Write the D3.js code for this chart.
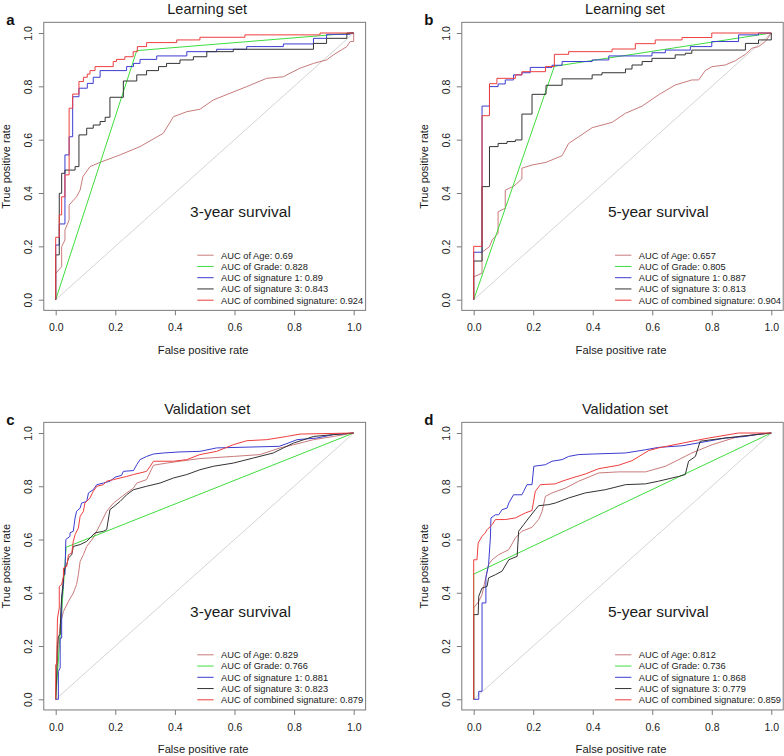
<!DOCTYPE html>
<html><head><meta charset="utf-8">
<script src="https://cdn.jsdelivr.net/npm/d3@7"></script>
<style>
html,body{margin:0;padding:0;background:#fff;}
svg{display:block;font-family:"Liberation Sans",Arial,sans-serif;}
</style></head>
<body>
<svg id="chart" width="784" height="756"></svg>
<script>
// ---------- data ----------
const seriesNames = ["AUC of Age", "AUC of Grade", "AUC of signature 1", "AUC of signature 3", "AUC of combined signature"];
const seriesColors = ["#c97b7b", "#3fdc3f", "#3c3cd0", "#333333", "#ef3e3e"];
const tickValues = [0, 0.2, 0.4, 0.6, 0.8, 1.0];

const panelLetters = ["a", "b", "c", "d"];
const panelTitles = ["Learning set", "Learning set", "Validation set", "Validation set"];
const panelSurvival = ["3-year survival", "5-year survival", "3-year survival", "5-year survival"];

const aucA = [0.69, 0.828, 0.89, 0.843, 0.924];
const aucB = [0.657, 0.805, 0.887, 0.813, 0.904];
const aucC = [0.829, 0.766, 0.881, 0.823, 0.879];
const aucD = [0.812, 0.736, 0.868, 0.779, 0.859];

// Panel a (learning, 3-year)
const aAge = [[0,0],[0,0.099],[0.02,0.124],[0.02,0.199],[0.031,0.224],[0.031,0.261],[0.045,0.299],[0.045,0.355],[0.07,0.386],[0.082,0.411],[0.091,0.461],[0.115,0.499],[0.149,0.515],[0.216,0.543],[0.283,0.574],[0.361,0.624],[0.395,0.686],[0.44,0.705],[0.484,0.714],[0.529,0.749],[0.585,0.774],[0.641,0.799],[0.708,0.83],[0.764,0.836],[0.786,0.849],[0.82,0.868],[0.865,0.886],[0.909,0.899],[0.932,0.918],[0.977,0.949],[0.988,0.968],[1,0.968],[1,1]];
const aGrade = [[0,0],[0.272,0.934],[1,1]];
const aSig1 = [[0,0],[0,0.205],[0.012,0.205],[0.012,0.284],[0.031,0.284],[0.031,0.543],[0.045,0.543],[0.045,0.611],[0.057,0.611],[0.057,0.761],[0.078,0.761],[0.078,0.793],[0.106,0.793],[0.106,0.811],[0.126,0.811],[0.126,0.834],[0.149,0.834],[0.149,0.859],[0.238,0.859],[0.238,0.874],[0.261,0.874],[0.261,0.886],[0.283,0.886],[0.283,0.901],[0.339,0.901],[0.339,0.914],[0.44,0.914],[0.44,0.93],[0.54,0.93],[0.54,0.939],[0.641,0.939],[0.641,0.949],[0.764,0.949],[0.764,0.959],[0.865,0.959],[0.865,0.98],[0.909,0.98],[0.909,0.995],[0.988,0.995],[0.988,1],[1,1]];
const aSig3 = [[0,0],[0,0.168],[0.012,0.168],[0.012,0.399],[0.02,0.399],[0.02,0.474],[0.031,0.474],[0.031,0.486],[0.065,0.486],[0.065,0.499],[0.078,0.499],[0.078,0.618],[0.104,0.618],[0.104,0.643],[0.126,0.643],[0.126,0.655],[0.149,0.655],[0.149,0.668],[0.166,0.668],[0.166,0.684],[0.182,0.684],[0.182,0.759],[0.227,0.759],[0.227,0.82],[0.272,0.82],[0.272,0.843],[0.305,0.843],[0.305,0.859],[0.345,0.859],[0.345,0.874],[0.372,0.874],[0.372,0.886],[0.417,0.886],[0.417,0.899],[0.462,0.899],[0.462,0.911],[0.507,0.911],[0.507,0.93],[0.596,0.93],[0.596,0.939],[0.865,0.939],[0.865,0.961],[0.909,0.961],[0.909,0.98],[0.977,0.98],[0.977,1],[1,1]];
const aComb = [[0,0],[0,0.234],[0.012,0.234],[0.012,0.318],[0.02,0.318],[0.02,0.386],[0.031,0.386],[0.031,0.468],[0.045,0.468],[0.045,0.718],[0.057,0.718],[0.057,0.771],[0.078,0.771],[0.078,0.818],[0.093,0.818],[0.093,0.834],[0.106,0.834],[0.106,0.846],[0.115,0.846],[0.115,0.859],[0.132,0.859],[0.132,0.874],[0.193,0.874],[0.193,0.893],[0.204,0.893],[0.204,0.901],[0.232,0.901],[0.232,0.911],[0.26,0.911],[0.26,0.93],[0.274,0.93],[0.274,0.949],[0.305,0.949],[0.305,0.964],[0.406,0.964],[0.406,0.974],[0.484,0.974],[0.484,0.984],[0.635,0.984],[0.635,0.993],[0.887,0.993],[0.887,1],[1,1]];

// Panel b (learning, 5-year)
const bAge = [[0,0],[0,0.086],[0.028,0.099],[0.028,0.178],[0.053,0.199],[0.062,0.224],[0.082,0.249],[0.082,0.33],[0.106,0.343],[0.106,0.411],[0.134,0.425],[0.162,0.453],[0.162,0.493],[0.196,0.505],[0.243,0.515],[0.297,0.54],[0.319,0.586],[0.353,0.611],[0.398,0.645],[0.465,0.665],[0.51,0.699],[0.566,0.726],[0.621,0.768],[0.677,0.805],[0.733,0.824],[0.756,0.824],[0.778,0.859],[0.801,0.874],[0.845,0.88],[0.879,0.896],[0.913,0.92],[0.935,0.943],[0.957,0.949],[0.98,0.968],[1,1]];
const bGrade = [[0,0],[0.271,0.875],[1,1]];
const bSig1 = [[0,0],[0,0.178],[0.028,0.178],[0.028,0.726],[0.053,0.726],[0.053,0.799],[0.082,0.799],[0.082,0.809],[0.106,0.809],[0.106,0.824],[0.134,0.824],[0.134,0.843],[0.162,0.843],[0.162,0.851],[0.19,0.851],[0.19,0.871],[0.263,0.871],[0.263,0.879],[0.297,0.879],[0.297,0.893],[0.398,0.893],[0.398,0.899],[0.454,0.899],[0.454,0.914],[0.599,0.914],[0.599,0.926],[0.644,0.926],[0.644,0.936],[0.728,0.936],[0.728,0.949],[0.8,0.949],[0.8,0.968],[0.89,0.968],[0.89,0.993],[0.957,0.993],[0.957,1],[1,1]];
const bSig3 = [[0,0],[0,0.145],[0.028,0.145],[0.028,0.424],[0.053,0.424],[0.053,0.574],[0.082,0.574],[0.082,0.586],[0.112,0.586],[0.112,0.593],[0.14,0.593],[0.14,0.599],[0.162,0.599],[0.162,0.696],[0.196,0.696],[0.196,0.77],[0.243,0.77],[0.243,0.804],[0.297,0.804],[0.297,0.828],[0.398,0.828],[0.398,0.843],[0.431,0.843],[0.431,0.851],[0.51,0.851],[0.51,0.865],[0.532,0.865],[0.532,0.88],[0.566,0.88],[0.566,0.893],[0.599,0.893],[0.599,0.905],[0.677,0.905],[0.677,0.918],[0.711,0.918],[0.711,0.924],[0.733,0.924],[0.733,0.936],[0.913,0.936],[0.913,0.961],[0.957,0.961],[0.957,0.974],[1,0.974],[1,1]];
const bComb = [[0,0],[0,0.2],[0.028,0.2],[0.028,0.69],[0.053,0.69],[0.053,0.81],[0.078,0.81],[0.078,0.83],[0.14,0.83],[0.14,0.843],[0.162,0.843],[0.162,0.855],[0.241,0.855],[0.241,0.874],[0.271,0.874],[0.271,0.92],[0.319,0.92],[0.319,0.93],[0.465,0.93],[0.465,0.94],[0.543,0.94],[0.543,0.96],[0.61,0.96],[0.61,0.974],[0.7,0.974],[0.7,0.983],[0.8,0.983],[0.8,1],[1,1]];

// Panel c (validation, 3-year)
const cAge = [[0,0],[0.003,0.08],[0.009,0.205],[0.015,0.28],[0.026,0.33],[0.043,0.368],[0.059,0.399],[0.07,0.431],[0.076,0.468],[0.082,0.518],[0.093,0.543],[0.104,0.574],[0.126,0.606],[0.149,0.656],[0.171,0.706],[0.194,0.737],[0.238,0.775],[0.261,0.793],[0.272,0.812],[0.305,0.825],[0.328,0.879],[0.372,0.887],[0.417,0.894],[0.484,0.904],[0.596,0.912],[0.686,0.919],[0.753,0.944],[0.798,0.956],[0.865,0.975],[0.932,0.987],[1,1]];
const cGrade = [[0,0],[0.035,0.571],[1,1]];
const cSig1 = [[0,0],[0.009,0],[0.009,0.105],[0.015,0.118],[0.015,0.23],[0.02,0.23],[0.02,0.38],[0.026,0.431],[0.026,0.468],[0.031,0.468],[0.034,0.6],[0.048,0.612],[0.048,0.625],[0.059,0.631],[0.065,0.681],[0.07,0.706],[0.082,0.718],[0.087,0.737],[0.104,0.743],[0.11,0.775],[0.126,0.787],[0.138,0.806],[0.16,0.812],[0.182,0.819],[0.199,0.834],[0.221,0.841],[0.227,0.856],[0.261,0.859],[0.272,0.881],[0.283,0.9],[0.305,0.912],[0.328,0.921],[0.361,0.925],[0.417,0.929],[0.484,0.931],[0.54,0.944],[0.75,0.95],[0.78,0.962],[0.81,0.975],[0.876,0.981],[0.932,0.994],[1,1]];
const cSig3 = [[0,0],[0.003,0.08],[0.006,0.205],[0.009,0.237],[0.015,0.243],[0.017,0.33],[0.02,0.38],[0.026,0.456],[0.031,0.493],[0.037,0.506],[0.043,0.531],[0.054,0.543],[0.059,0.574],[0.082,0.581],[0.104,0.593],[0.132,0.625],[0.16,0.631],[0.171,0.637],[0.182,0.712],[0.216,0.743],[0.238,0.768],[0.261,0.787],[0.305,0.8],[0.35,0.812],[0.395,0.831],[0.44,0.844],[0.484,0.862],[0.529,0.875],[0.596,0.887],[0.663,0.906],[0.73,0.925],[0.764,0.944],[0.798,0.962],[0.865,0.987],[0.932,0.994],[1,1]];
const cComb = [[0,0],[0,0.13],[0.003,0.13],[0.006,0.305],[0.012,0.343],[0.012,0.424],[0.02,0.431],[0.026,0.462],[0.026,0.493],[0.037,0.499],[0.043,0.543],[0.054,0.549],[0.059,0.593],[0.065,0.618],[0.076,0.643],[0.082,0.687],[0.093,0.706],[0.098,0.737],[0.115,0.756],[0.126,0.781],[0.138,0.8],[0.16,0.806],[0.171,0.819],[0.194,0.825],[0.216,0.831],[0.238,0.837],[0.261,0.844],[0.283,0.85],[0.305,0.856],[0.317,0.875],[0.328,0.894],[0.395,0.894],[0.44,0.9],[0.484,0.919],[0.54,0.931],[0.596,0.956],[0.641,0.971],[0.708,0.975],[0.775,0.987],[0.82,0.996],[1,1]];

// Panel d (validation, 5-year)
const dAge = [[0,0],[0,0.343],[0.017,0.368],[0.028,0.393],[0.05,0.506],[0.062,0.524],[0.084,0.543],[0.118,0.562],[0.14,0.606],[0.162,0.631],[0.196,0.646],[0.218,0.675],[0.23,0.706],[0.241,0.762],[0.263,0.775],[0.308,0.793],[0.353,0.819],[0.42,0.85],[0.487,0.854],[0.577,0.854],[0.644,0.875],[0.689,0.9],[0.733,0.925],[0.801,0.956],[0.89,0.987],[1,1]];
const dGrade = [[0,0],[0,0.47],[1,1]];
const dSig1 = [[0,0],[0.017,0],[0.017,0.03],[0.028,0.03],[0.028,0.362],[0.041,0.362],[0.041,0.456],[0.05,0.506],[0.056,0.606],[0.058,0.681],[0.073,0.693],[0.084,0.693],[0.095,0.712],[0.112,0.718],[0.118,0.737],[0.134,0.768],[0.162,0.768],[0.168,0.781],[0.179,0.806],[0.196,0.806],[0.202,0.875],[0.241,0.881],[0.263,0.894],[0.297,0.9],[0.319,0.912],[0.353,0.919],[0.398,0.921],[0.51,0.925],[0.577,0.937],[0.621,0.946],[0.7,0.952],[0.767,0.965],[0.845,0.981],[0.913,0.987],[0.957,0.996],[1,1]];
const dSig3 = [[0,0],[0,0.318],[0.015,0.318],[0.017,0.387],[0.028,0.418],[0.045,0.424],[0.05,0.456],[0.073,0.468],[0.095,0.481],[0.118,0.524],[0.146,0.537],[0.151,0.631],[0.168,0.656],[0.185,0.681],[0.207,0.712],[0.218,0.727],[0.252,0.731],[0.274,0.737],[0.319,0.756],[0.375,0.775],[0.442,0.787],[0.51,0.806],[0.577,0.809],[0.621,0.819],[0.689,0.837],[0.711,0.844],[0.722,0.894],[0.745,0.912],[0.761,0.969],[0.801,0.975],[0.845,0.981],[1,1]];
const dComb = [[0,0],[0,0.524],[0.011,0.524],[0.015,0.587],[0.028,0.612],[0.039,0.625],[0.045,0.637],[0.062,0.656],[0.073,0.675],[0.106,0.675],[0.14,0.681],[0.174,0.7],[0.196,0.709],[0.207,0.781],[0.224,0.806],[0.274,0.809],[0.297,0.819],[0.33,0.831],[0.375,0.846],[0.42,0.866],[0.487,0.879],[0.532,0.896],[0.566,0.919],[0.588,0.934],[0.621,0.944],[0.733,0.969],[0.789,0.981],[0.89,1],[1,1]];

const panelCurves = [
  [aAge, aGrade, aSig1, aSig3, aComb],
  [bAge, bGrade, bSig1, bSig3, bComb],
  [cAge, cGrade, cSig1, cSig3, cComb],
  [dAge, dGrade, dSig1, dSig3, dComb]
];
const panelAuc = [aucA, aucB, aucC, aucD];

// ---------- layout ----------
const layout = [
  {x0: 55.7, x1: 353.7, y0: 299.7, y1: 33},
  {x0: 473.7, x1: 771.3, y0: 299.7, y1: 33},
  {x0: 55.7, x1: 353.7, y0: 699.3, y1: 433},
  {x0: 473.7, x1: 771.3, y0: 699.3, y1: 433}
];

const svg = d3.select("#chart");
const boxColor = "#7a7a7a";
const textColor = "#1a1a1a";

layout.forEach((L, i) => {
  const x = d3.scaleLinear().domain([0, 1]).range([L.x0, L.x1]);
  const y = d3.scaleLinear().domain([0, 1]).range([L.y0, L.y1]);
  const padX = (L.x1 - L.x0) * 0.04, padY = (L.y0 - L.y1) * 0.04;
  const bx0 = L.x0 - padX, bx1 = L.x1 + padX, by0 = L.y1 - padY, by1 = L.y0 + padY;
  const g = svg.append("g");

  // diagonal reference
  g.append("line")
    .attr("x1", x(0)).attr("y1", y(0)).attr("x2", x(1)).attr("y2", y(1))
    .attr("stroke", "#d4d4d4").attr("stroke-width", 1);

  const line = d3.line().x(d => x(d[0])).y(d => y(d[1]));
  panelCurves[i].forEach((c, k) => {
    g.append("path").datum(c).attr("d", line)
      .attr("fill", "none").attr("stroke", seriesColors[k])
      .attr("stroke-width", 1).attr("stroke-linejoin", "miter");
  });

  // box
  g.append("rect").attr("x", bx0).attr("y", by0)
    .attr("width", bx1 - bx0).attr("height", by1 - by0)
    .attr("fill", "none").attr("stroke", boxColor).attr("stroke-width", 1);

  // x axis
  const xa = g.append("g").attr("transform", `translate(0,${by1})`)
    .call(d3.axisBottom(x).tickValues(tickValues).tickFormat(d3.format(".1f")).tickSize(5).tickSizeOuter(0));
  xa.select(".domain").remove();
  xa.selectAll("line").attr("stroke", boxColor);
  xa.selectAll("text").attr("dy", null).attr("y", 21)
    .attr("font-size", 10.5).attr("fill", textColor).attr("font-family", "Liberation Sans, Arial, sans-serif");

  // y axis
  const ya = g.append("g").attr("transform", `translate(${bx0},0)`)
    .call(d3.axisLeft(y).tickValues(tickValues).tickFormat(d3.format(".1f")).tickSize(5).tickSizeOuter(0));
  ya.select(".domain").remove();
  ya.selectAll("line").attr("stroke", boxColor);
  ya.selectAll("text").attr("x", null).attr("dy", null)
    .attr("transform", "translate(-12,0) rotate(-90)")
    .attr("text-anchor", "middle")
    .attr("font-size", 10.5).attr("fill", textColor).attr("font-family", "Liberation Sans, Arial, sans-serif");

  const cx = (bx0 + bx1) / 2;
  // title
  g.append("text").attr("x", cx + 2.5).attr("y", by0 - 8)
    .attr("text-anchor", "middle").attr("font-size", 14.5).attr("fill", textColor)
    .text(panelTitles[i]);
  // panel letter
  g.append("text").attr("x", bx0 - 37.5).attr("y", by0 + 2.7)
    .attr("font-size", 15).attr("font-weight", "bold").attr("fill", "#111")
    .text(panelLetters[i]);
  // axis labels
  g.append("text").attr("x", cx - 1.5).attr("y", by1 + 43.5)
    .attr("text-anchor", "middle").attr("font-size", 11.2).attr("fill", textColor)
    .text("False positive rate");
  g.append("text")
    .attr("transform", `translate(${bx0 - 33.6},${(L.y0 + L.y1) / 2}) rotate(-90)`)
    .attr("text-anchor", "middle").attr("font-size", 11).attr("fill", textColor)
    .text("True positive rate");

  // survival annotation
  g.append("text").attr("x", x(0.451)).attr("y", y(0.31))
    .attr("font-size", 15.5).attr("fill", textColor)
    .text(panelSurvival[i]);

  // legend (no box)
  const lx0 = x(0.475), lx1 = x(0.53), tx = x(0.555);
  const rowY0 = y(0) - 44.5, step = 11.25;
  seriesNames.forEach((name, k) => {
    const ry = rowY0 + k * step;
    g.append("line").attr("x1", lx0).attr("x2", lx1).attr("y1", ry).attr("y2", ry)
      .attr("stroke", seriesColors[k]).attr("stroke-width", 1);
    g.append("text").attr("x", tx).attr("y", ry + 3.3)
      .attr("font-size", 9.3).attr("fill", textColor)
      .text(name + ": " + panelAuc[i][k]);
  });
});
</script>
</body></html>
